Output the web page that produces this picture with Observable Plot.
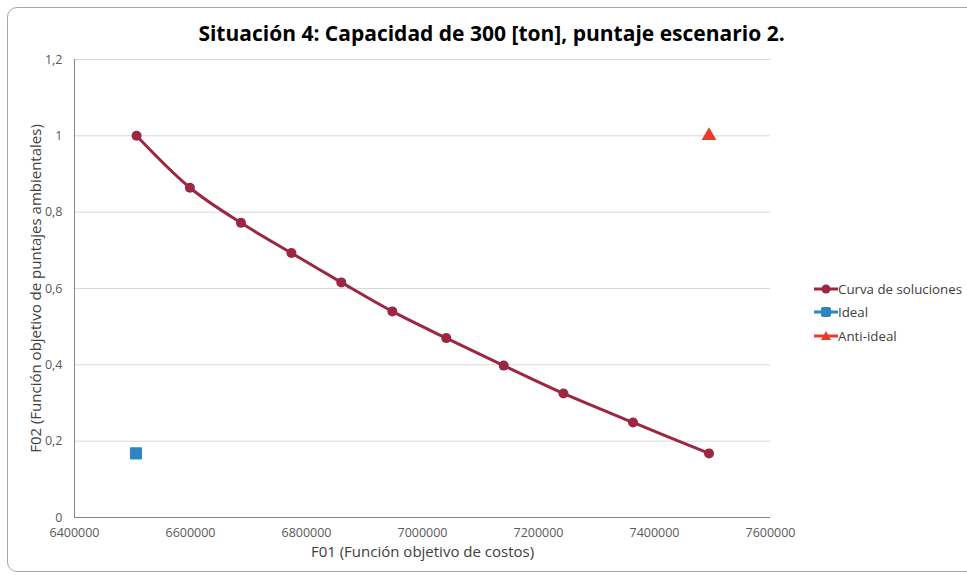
<!DOCTYPE html>
<html>
<head>
<meta charset="utf-8">
<script src="https://cdn.jsdelivr.net/npm/d3@7"></script>
<script src="https://cdn.jsdelivr.net/npm/@observablehq/plot@0.6"></script>
<style>
  html, body { margin: 0; padding: 0; background: #fff; }
  #wrap { position: relative; width: 967px; height: 575px; overflow: hidden; font-family: "Open Sans", Lato, sans-serif; }
  #frame { position: absolute; left: 7px; top: 7px; width: 975px; height: 565px; border: 1px solid #a6a6a6; border-radius: 10px; box-sizing: border-box; }
  #title { position: absolute; left: 0; top: 19px; width: 983px; text-align: center; font-size: 21px; font-weight: bold; color: #000; line-height: 28px; }
  #chart { position: absolute; left: 0; top: 0; }
  #legend { position: absolute; left: 814px; top: 277px; font-size: 13.3px; color: #404040; }
  .li { display: flex; align-items: center; height: 23.5px; }
  .li svg { margin-right: 0px; }
</style>
</head>
<body>
<div id="wrap">
  <div id="frame"></div>
  <div id="title">Situación 4: Capacidad de 300 [ton], puntaje escenario 2.</div>
  <div id="chart"></div>
  <div id="legend"></div>
</div>
<script>
const costos = [6507000, 6599000, 6687000, 6774000, 6860000, 6948000, 7041000, 7140000, 7243000, 7363000, 7494000];
const puntajes = [1.0, 0.864, 0.772, 0.693, 0.616, 0.540, 0.470, 0.398, 0.325, 0.249, 0.168];
const idealX = [6506000];
const idealY = [0.168];
const antiX = [7494000];
const antiY = [1.0];
const xTicks = [6400000, 6600000, 6800000, 7000000, 7200000, 7400000, 7600000];
const yTicks = [0, 0.2, 0.4, 0.6, 0.8, 1.0, 1.2];
const seriesNames = ["Curva de soluciones", "Ideal", "Anti-ideal"];
const seriesColors = ["#9b2743", "#2e86c1", "#e8392e"];
const xLabel = "F01 (Función objetivo de costos)";
const yLabel = "F02 (Función objetivo de puntajes ambientales)";

const curva = costos.map((x, i) => ({x, y: puntajes[i]}));
const ideal = idealX.map((x, i) => ({x, y: idealY[i]}));
const anti = antiX.map((x, i) => ({x, y: antiY[i]}));

const fmtY = d => String(+d.toFixed(1)).replace(".", ",");

const plot = Plot.plot({
  width: 967,
  height: 575,
  marginLeft: 74,
  marginRight: 197,
  marginTop: 59,
  marginBottom: 58,
  style: { fontFamily: "'Open Sans', Lato, sans-serif", background: "transparent" },
  x: { domain: [6400000, 7600000], ticks: xTicks, tickFormat: d => String(d), label: null },
  y: { domain: [0, 1.2], ticks: yTicks, tickFormat: fmtY, label: null },
  marks: [
    Plot.gridY(yTicks, { stroke: "#d9d9d9", strokeOpacity: 1, strokeWidth: 1 }),
    Plot.ruleY([0], { stroke: "#868686", strokeWidth: 1 }),
    Plot.ruleX([6400000], { stroke: "#868686", strokeWidth: 1 }),
    Plot.axisX({ ticks: xTicks, tickFormat: d => String(d), tickSize: 0, tickPadding: 11, fontSize: 12.5, fill: "#595959", label: null }),
    Plot.axisY({ ticks: yTicks, tickFormat: fmtY, tickSize: 0, tickPadding: 12, fontSize: 12.5, fill: "#595959", label: null }),
    Plot.line(curva, { x: "x", y: "y", stroke: seriesColors[0], strokeWidth: 3, curve: "catmull-rom" }),
    Plot.dot(curva, { x: "x", y: "y", r: 5, fill: seriesColors[0], stroke: "none" }),
    Plot.dot(ideal, { x: "x", y: "y", r: 6.3, symbol: "square", fill: seriesColors[1], stroke: seriesColors[1], strokeWidth: 1, strokeLinejoin: "round" }),
    Plot.dot(anti, { x: "x", y: "y", r: 5.5, symbol: "triangle", fill: seriesColors[2], stroke: "none" }),
    Plot.text([xLabel], { frameAnchor: "bottom", dy: 35, textAnchor: "middle", lineAnchor: "middle", fontSize: 15, fill: "#404040" }),
    Plot.text([yLabel], { frameAnchor: "left", dx: -38, rotate: -90, textAnchor: "middle", lineAnchor: "middle", fontSize: 15, fill: "#404040" })
  ]
});
document.getElementById("chart").appendChild(plot);

const legend = document.getElementById("legend");
const symbols = ["circle", "square", "triangle"];
seriesNames.forEach((name, i) => {
  const row = document.createElement("div");
  row.className = "li";
  const c = seriesColors[i];
  let marker;
  if (symbols[i] === "circle") marker = `<circle cx="12" cy="8" r="4.5" fill="${c}"/>`;
  else if (symbols[i] === "square") marker = `<rect x="7" y="3" width="10" height="10" rx="2" fill="${c}"/>`;
  else marker = `<path d="M12,3 L17,12 L7,12 Z" fill="${c}"/>`;
  row.innerHTML = `<svg width="24" height="16"><line x1="0" x2="24" y1="8" y2="8" stroke="${c}" stroke-width="3"/>${marker}</svg><span>${name}</span>`;
  legend.appendChild(row);
});
</script>
</body>
</html>
